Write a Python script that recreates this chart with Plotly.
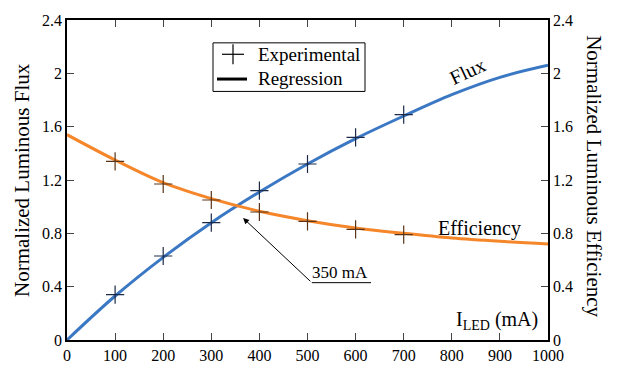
import plotly.graph_objects as go

# Experimental points
exp_current = [100, 200, 300, 400, 500, 600, 700]
flux_exp = [0.34, 0.63, 0.88, 1.12, 1.32, 1.52, 1.69]
eff_exp = [1.34, 1.17, 1.05, 0.96, 0.89, 0.83, 0.79]

# Regression curves
reg_current = [0, 100, 200, 300, 400, 500, 600, 700, 800, 900, 1000]
flux_reg = [0.0, 0.33, 0.62, 0.88, 1.11, 1.32, 1.51, 1.68, 1.84, 1.97, 2.06]
eff_reg = [1.54, 1.35, 1.18, 1.06, 0.965, 0.895, 0.84, 0.80, 0.765, 0.74, 0.72]

x_ticks = [0, 100, 200, 300, 400, 500, 600, 700, 800, 900, 1000]
y_ticks = [0, 0.4, 0.8, 1.2, 1.6, 2.0, 2.4]
y_ticklabels = ["0", "0.4", "0.8", "1.2", "1.6", "2", "2.4"]

BLUE = "#3b78c4"
ORANGE = "#f5862a"
FONT = "Liberation Serif"

# plot area in pixels
L, R, T, B = 67, 548, 13, 349
def px(x):
    return (x - L) / (R - L)
def py(y):
    return (B - y) / (B - T)

fig = go.Figure()
fig.add_trace(go.Scatter(x=reg_current, y=flux_reg, mode="lines", line=dict(color=BLUE, width=3, shape="spline"), showlegend=False))
fig.add_trace(go.Scatter(x=reg_current, y=eff_reg, mode="lines", line=dict(color=ORANGE, width=3, shape="spline"), showlegend=False))
fig.add_trace(go.Scatter(x=exp_current, y=flux_exp, mode="markers",
                         marker=dict(symbol="cross-thin", size=13, line=dict(color="#1c2a48", width=1.2)), showlegend=False))
fig.add_trace(go.Scatter(x=exp_current, y=eff_exp, mode="markers",
                         marker=dict(symbol="cross-thin", size=13, line=dict(color="#5a3418", width=1.2)), showlegend=False))
# right axis dummy
fig.add_trace(go.Scatter(x=[None], y=[None], yaxis="y2", showlegend=False))

axis_font = dict(family=FONT, size=16, color="black")
fig.update_layout(
    width=626, height=376,
    margin=dict(l=L, r=626 - R, t=T, b=376 - B),
    paper_bgcolor="white", plot_bgcolor="white",
    font=dict(family=FONT, color="black"),
    showlegend=False,
    xaxis=dict(range=[0, 1000], tickvals=x_ticks, ticks="inside", ticklen=7, tickwidth=1,
               showline=True, linecolor="black", linewidth=1.5, mirror="ticks",
               showgrid=False, zeroline=False, tickfont=axis_font),
    yaxis=dict(range=[0, 2.4], tickvals=y_ticks, ticktext=y_ticklabels, ticks="inside", ticklen=7,
               showline=True, linecolor="black", linewidth=1.5, showgrid=False, zeroline=False,
               tickfont=axis_font),
    yaxis2=dict(range=[0, 2.4], tickvals=y_ticks, ticktext=y_ticklabels, ticks="inside", ticklen=7,
                overlaying="y", side="right", showline=True, linecolor="black", linewidth=1.5,
                showgrid=False, zeroline=False, tickfont=axis_font),
)

annotations = [
    dict(text="Normalized Luminous Flux", xref="paper", yref="paper", x=px(22), y=py(181),
         xanchor="center", yanchor="middle",
         textangle=-90, showarrow=False, font=dict(family=FONT, size=21)),
    dict(text="Normalized Luminous Efficiency", xref="paper", yref="paper", x=px(594), y=py(177),
         xanchor="center", yanchor="middle",
         textangle=90, showarrow=False, font=dict(family=FONT, size=21)),
    dict(text="Flux", x=833, y=2.02, xref="x", yref="y", textangle=-25, showarrow=False,
         font=dict(family=FONT, size=20)),
    dict(text="Efficiency", x=858, y=0.84, xref="x", yref="y", showarrow=False,
         font=dict(family=FONT, size=20)),
    dict(text="I<sub>LED</sub> (mA)", x=894, y=0.15, xref="x", yref="y", showarrow=False,
         font=dict(family=FONT, size=20)),
    dict(text="350 mA", x=568, y=0.51, xref="x", yref="y", showarrow=False,
         font=dict(family=FONT, size=17)),
    dict(x=366, y=0.915, ax=509, ay=0.43, xref="x", yref="y", axref="x", ayref="y",
         text="", showarrow=True, arrowhead=2, arrowsize=1.2, arrowwidth=1, arrowcolor="black"),
    # legend texts
    dict(text="Experimental", xref="paper", yref="paper", x=px(256), y=py(49),
         xanchor="left", yanchor="middle", showarrow=False, font=dict(family=FONT, size=19)),
    dict(text="Regression", xref="paper", yref="paper", x=px(256), y=py(74),
         xanchor="left", yanchor="middle", showarrow=False, font=dict(family=FONT, size=19)),
]
fig.update_layout(annotations=annotations)
fig.add_shape(type="line", x0=509, y0=0.43, x1=632, y1=0.43, xref="x", yref="y",
              line=dict(color="black", width=1))
# legend box and symbols
fig.add_shape(type="rect", xref="paper", yref="paper", x0=px(213), x1=px(365), y0=py(88), y1=py(37),
              line=dict(color="black", width=1), fillcolor="white", layer="above")
fig.add_shape(type="line", xref="paper", yref="paper", x0=px(222), x1=px(244), y0=py(49), y1=py(49),
              line=dict(color="black", width=1.2))
fig.add_shape(type="line", xref="paper", yref="paper", x0=px(233), x1=px(233), y0=py(38.5), y1=py(59.5),
              line=dict(color="black", width=1.2))
fig.add_shape(type="line", xref="paper", yref="paper", x0=px(217), x1=px(247), y0=py(75), y1=py(75),
              line=dict(color="black", width=3))

fig.write_html("out.html")
